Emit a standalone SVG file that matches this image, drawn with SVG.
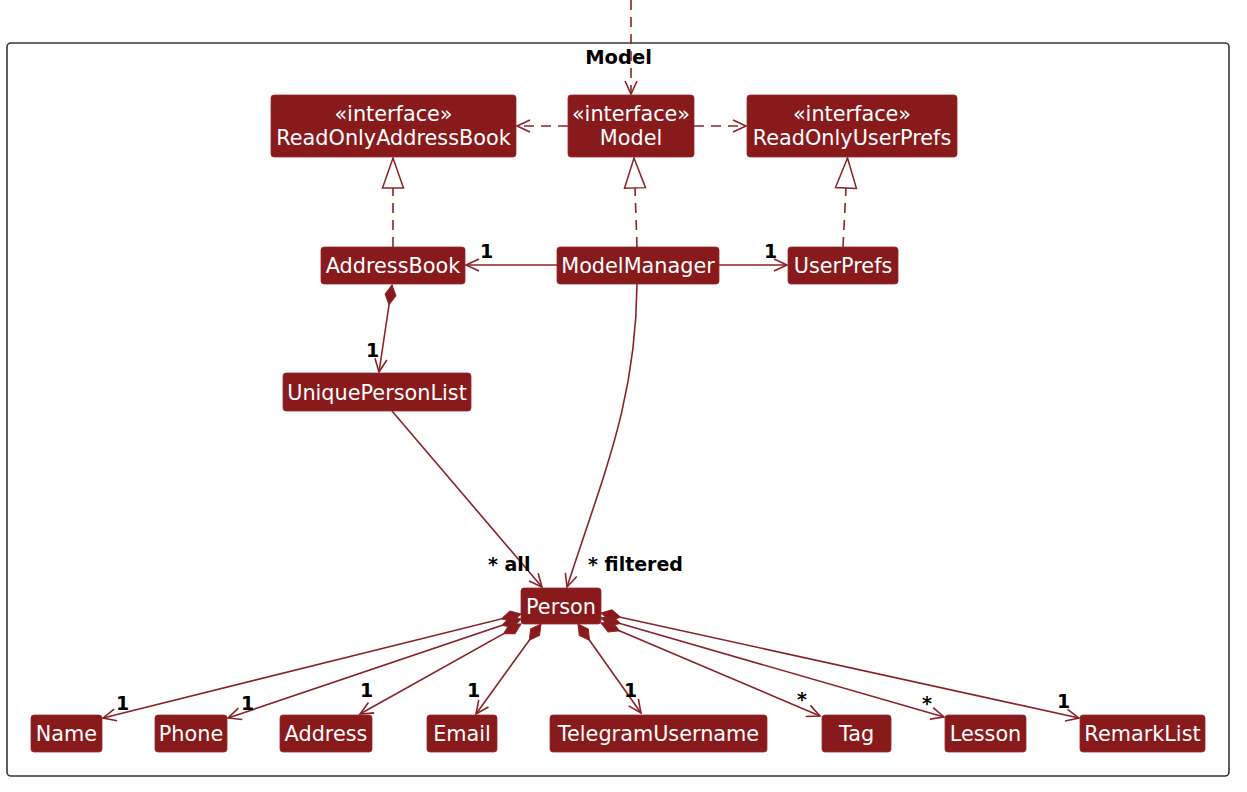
<svg xmlns="http://www.w3.org/2000/svg" width="1247" height="792" viewBox="0 0 1247 792">
<style>
.node rect{fill:#891A1C;stroke:#9A2A2E;stroke-width:0.8}
.nt{font-family:"DejaVu Sans","Liberation Sans",sans-serif;font-size:20.8px;fill:#FFFFFF;text-anchor:middle}
.lbl{font-family:"DejaVu Sans","Liberation Sans",sans-serif;font-size:19px;font-weight:bold;fill:#000000}
.ttl{font-family:"DejaVu Sans","Liberation Sans",sans-serif;font-size:19.5px;font-weight:bold;fill:#000000;text-anchor:middle}
.edge{fill:none;stroke:#8A2328;stroke-width:1.6}
.dash{stroke-dasharray:10 7}
</style>
<defs>
<marker id="open" markerUnits="userSpaceOnUse" markerWidth="1" markerHeight="1" refX="0" refY="0" orient="auto" style="overflow:visible">
<path d="M-13,-6 L0,0 L-13,6" fill="none" stroke="#8A2328" stroke-width="1.6" stroke-dasharray="none"/>
</marker>
<marker id="diamond" markerUnits="userSpaceOnUse" markerWidth="1" markerHeight="1" refX="0" refY="0" orient="auto" style="overflow:visible">
<path d="M0,0 L10,-5.5 L20,0 L10,5.5 Z" fill="#891A1C" stroke="#8A2328" stroke-width="1" stroke-dasharray="none"/>
</marker>
<marker id="tri" markerUnits="userSpaceOnUse" markerWidth="1" markerHeight="1" refX="0" refY="0" orient="auto" style="overflow:visible">
<path d="M0,0 L-30,-10.5 L-30,10.5 Z" fill="#FFFFFF" stroke="#8A2328" stroke-width="1.5" stroke-dasharray="none"/>
</marker>
</defs>
<rect x="0" y="0" width="1247" height="792" fill="#FFFFFF"/>
<g id="package-Model">
<rect x="7" y="43" width="1222" height="733" rx="4" fill="none" stroke="#383838" stroke-width="1.6"/>
<text class="ttl" x="618.5" y="64">Model</text>
</g>
<g id="connectors">
<path class="edge dash" d="M631,0 L631,94" marker-end="url(#open)"/>
<path class="edge dash" d="M568,126 L517,126" marker-end="url(#open)"/>
<path class="edge dash" d="M694,126 L746,126" marker-end="url(#open)"/>
<path class="edge dash" d="M393,247 L393,158" marker-end="url(#tri)"/>
<path class="edge dash" d="M637,247 L634,158" marker-end="url(#tri)"/>
<path class="edge dash" d="M843,247 L847.5,158" marker-end="url(#tri)"/>
<path class="edge" d="M557,265 L466,265" marker-end="url(#open)"/>
<path class="edge" d="M719,265 L787,265" marker-end="url(#open)"/>
<path class="edge" d="M392,285 L379,372" marker-start="url(#diamond)" marker-end="url(#open)"/>
<path class="edge" d="M392,411 L542,587" marker-end="url(#open)"/>
<path class="edge" d="M637,284 C636,400 605,470 567,587" marker-end="url(#open)"/>
<path class="edge" d="M521,614 L103,718" marker-start="url(#diamond)" marker-end="url(#open)"/>
<path class="edge" d="M521,619 L228,718" marker-start="url(#diamond)" marker-end="url(#open)"/>
<path class="edge" d="M521,624 L360,714" marker-start="url(#diamond)" marker-end="url(#open)"/>
<path class="edge" d="M541,624 L476,714" marker-start="url(#diamond)" marker-end="url(#open)"/>
<path class="edge" d="M578,624 L641,713" marker-start="url(#diamond)" marker-end="url(#open)"/>
<path class="edge" d="M601,623 L820,716" marker-start="url(#diamond)" marker-end="url(#open)"/>
<path class="edge" d="M601,618 L944,717" marker-start="url(#diamond)" marker-end="url(#open)"/>
<path class="edge" d="M601,613 L1079,718" marker-start="url(#diamond)" marker-end="url(#open)"/>
<text class="lbl" x="480" y="258">1</text>
<text class="lbl" x="764" y="258">1</text>
<text class="lbl" x="366" y="357">1</text>
<text class="lbl" x="488" y="571">* all</text>
<text class="lbl" x="588" y="571">* filtered</text>
<text class="lbl" x="116" y="710">1</text>
<text class="lbl" x="241" y="710">1</text>
<text class="lbl" x="360" y="697">1</text>
<text class="lbl" x="467" y="697">1</text>
<text class="lbl" x="624" y="697">1</text>
<text class="lbl" x="797" y="706">*</text>
<text class="lbl" x="922" y="710">*</text>
<text class="lbl" x="1057" y="708">1</text>
</g>
<g id="ReadOnlyAddressBook" class="node"><rect x="271" y="95" width="245" height="62" rx="3"/><text class="nt" x="393.5" y="121">«interface»</text><text class="nt" x="393.5" y="145">ReadOnlyAddressBook</text></g>
<g id="ModelInterface" class="node"><rect x="568" y="95" width="126" height="62" rx="3"/><text class="nt" x="631" y="121">«interface»</text><text class="nt" x="631" y="145">Model</text></g>
<g id="ReadOnlyUserPrefs" class="node"><rect x="747" y="95" width="210" height="62" rx="3"/><text class="nt" x="852" y="121">«interface»</text><text class="nt" x="852" y="145">ReadOnlyUserPrefs</text></g>
<g id="AddressBook" class="node"><rect x="321" y="247" width="144" height="37" rx="3"/><text class="nt" x="393" y="273">AddressBook</text></g>
<g id="ModelManager" class="node"><rect x="557" y="247" width="162" height="37" rx="3"/><text class="nt" x="638" y="273">ModelManager</text></g>
<g id="UserPrefs" class="node"><rect x="788" y="247" width="110" height="37" rx="3"/><text class="nt" x="843" y="273">UserPrefs</text></g>
<g id="UniquePersonList" class="node"><rect x="283" y="373" width="188" height="38" rx="3"/><text class="nt" x="377" y="399.5">UniquePersonList</text></g>
<g id="Person" class="node"><rect x="521" y="588" width="80" height="36" rx="3"/><text class="nt" x="561" y="613.5">Person</text></g>
<g id="Name" class="node"><rect x="31" y="715" width="71" height="37" rx="3"/><text class="nt" x="66.5" y="741">Name</text></g>
<g id="Phone" class="node"><rect x="155" y="715" width="72" height="37" rx="3"/><text class="nt" x="191" y="741">Phone</text></g>
<g id="Address" class="node"><rect x="280" y="715" width="92" height="37" rx="3"/><text class="nt" x="326" y="741">Address</text></g>
<g id="Email" class="node"><rect x="427" y="715" width="70" height="37" rx="3"/><text class="nt" x="462" y="741">Email</text></g>
<g id="TelegramUsername" class="node"><rect x="550" y="715" width="217" height="37" rx="3"/><text class="nt" x="658.5" y="741">TelegramUsername</text></g>
<g id="Tag" class="node"><rect x="822" y="715" width="69" height="37" rx="3"/><text class="nt" x="856.5" y="741">Tag</text></g>
<g id="Lesson" class="node"><rect x="945" y="715" width="81" height="37" rx="3"/><text class="nt" x="985.5" y="741">Lesson</text></g>
<g id="RemarkList" class="node"><rect x="1080" y="715" width="125" height="37" rx="3"/><text class="nt" x="1142.5" y="741">RemarkList</text></g>
</svg>
